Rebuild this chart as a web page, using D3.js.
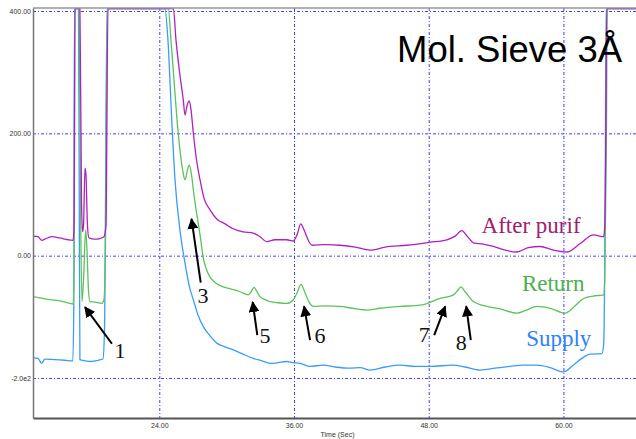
<!DOCTYPE html>
<html>
<head>
<meta charset="utf-8">
<script src="https://cdn.jsdelivr.net/npm/d3@7"></script>
<style>
  body { margin: 0; background: #fff; }
  svg { display: block; }
  .tick text { font-family: Arial, "Liberation Sans", sans-serif; font-size: 7px; fill: #333; }
  .note { font-family: "Liberation Serif", "Times New Roman", serif; }
</style>
</head>
<body>
<svg width="636" height="439"></svg>
<script>
// time (sec), signal
const afterPurif = [
  [12.74, 32], [13.19, 31], [13.55, 25], [13.81, 27], [14.43, 31], [15.14, 29], [15.86, 26], [16.31, 25],
  [16.40, 42], [16.49, 404], [16.93, 404], [17.07, 91], [17.16, 39], [17.25, 50], [17.38, 143], [17.47, 132],
  [17.60, 50], [17.73, 29], [18.27, 27], [18.71, 28], [19.07, 31], [19.25, 50], [19.43, 404], [25.25, 404],
  [25.49, 352], [25.84, 295], [26.14, 254], [26.29, 230], [26.47, 245], [26.67, 253], [26.83, 238], [27.03, 201],
  [27.32, 156], [27.63, 124], [27.98, 94], [28.52, 75], [29.12, 60], [29.86, 52], [30.57, 44], [31.46, 39],
  [32.38, 37], [32.97, 31], [33.57, 23], [34.31, 26], [35.35, 26], [35.94, 24], [36.27, 34], [36.60, 52],
  [36.90, 42], [37.25, 26], [37.61, 17], [38.77, 18], [40.11, 17], [41.45, 14], [42.78, 9], [44.12, 14],
  [46.05, 17], [48.13, 22], [49.61, 26], [50.35, 32], [50.95, 41], [51.42, 32], [51.99, 21], [52.85, 19],
  [53.77, 15], [54.81, 9], [55.86, 6], [56.86, 13], [57.93, 15], [59.09, 9], [60.31, 6], [61.50, 20],
  [62.68, 34], [63.58, 31], [63.68, 48], [63.77, 173], [63.86, 404], [67, 404]
]

const returnLine = [
  [12.74, -67], [13.37, -69], [14.26, -72], [15.14, -74], [16.04, -78], [16.33, -79], [16.42, 9], [16.49, 404],
  [16.84, 404], [16.98, 91], [17.11, -75], [17.25, -40], [17.44, 42], [17.56, 9], [17.69, -56], [17.82, -75],
  [18.27, -76], [18.87, -78], [19.07, -72], [19.20, 9], [19.38, 404], [24.80, 404], [25.04, 353], [25.31, 287],
  [25.58, 222], [25.84, 173], [26.11, 137], [26.29, 124], [26.51, 140], [26.67, 148], [26.87, 132], [27.09, 99],
  [27.33, 69], [27.63, 34], [27.92, -4], [28.21, -23], [28.52, -35], [29.05, -45], [29.70, -51], [30.48, -55],
  [31.19, -59], [31.93, -64], [32.17, -59], [32.44, -52], [32.71, -59], [32.97, -67], [33.42, -72], [33.87, -75],
  [34.58, -77], [35.35, -78], [35.94, -72], [36.27, -61], [36.63, -47], [36.99, -61], [37.34, -76], [37.73, -83],
  [38.77, -82], [40.11, -83], [41.18, -86], [42.49, -89], [43.67, -86], [45.45, -83], [47.24, -81], [49.02, -70],
  [50.20, -64], [50.53, -58], [50.86, -51], [51.25, -59], [51.99, -75], [53.18, -83], [54.37, -87], [55.86, -94],
  [56.69, -89], [57.64, -83], [58.82, -86], [60.16, -94], [61.05, -82], [61.79, -70], [62.65, -66], [63.58, -64],
  [63.68, -40], [63.82, 173], [63.91, 404], [67, 404]
]

const supply = [
  [12.74, -167], [13.19, -168], [13.52, -176], [13.81, -169], [14.70, -170], [15.59, -171], [16.30, -172], [16.39, -72],
  [16.44, 404], [16.80, 404], [16.87, 91], [16.93, -170], [17.38, -172], [18.00, -173], [18.54, -171], [18.98, -169],
  [19.12, -121], [19.34, 404], [24.50, 404], [24.77, 353], [25.11, 222], [25.40, 124], [25.84, 42], [26.29, -12],
  [26.65, -48], [27.03, -72], [27.45, -97], [27.92, -116], [28.52, -131], [29.12, -143], [29.86, -149], [30.60, -154],
  [31.46, -161], [32.38, -168], [33.15, -172], [33.87, -176], [34.58, -175], [35.35, -173], [35.92, -175], [36.54, -176],
  [37.43, -181], [38.62, -179], [39.66, -182], [41.00, -184], [41.89, -183], [42.78, -187], [44.12, -182], [45.46, -179],
  [46.79, -181], [48.13, -181], [50.20, -179], [51.25, -182], [52.58, -187], [53.92, -184], [55.26, -181], [56.42, -179],
  [57.64, -179], [58.82, -183], [60.00, -190], [60.87, -179], [61.49, -170], [62.38, -161], [63.42, -160], [63.58, -146],
  [63.72, 91], [63.80, 404], [67, 404]
]

const timeTicks = [24, 36, 48, 60]
const timeLabels = ['24.00', '36.00', '48.00', '60.00']
const valueTicks = [400, 200, 0, -200]
const valueLabels = ['400.00', '200.00', '0.00', '-2.0e2']

// [label, tip t, tip v, tail t, tail v, text t, text v]
const peaks = [
  ['1', 17.38, -84, 19.78, -144, 20.50, -167],
  ['3', 26.87, 60, 27.69, -44, 27.89, -77],
  ['5', 32.32, -76, 32.73, -130, 33.42, -142],
  ['6', 36.90, -83, 37.43, -138, 38.32, -143],
  ['7', 49.47, -83, 48.49, -130, 47.60, -141],
  ['8', 51.34, -83, 51.75, -138, 50.89, -154]
]

const seriesNames = ['After purif', 'Return', 'Supply']
const seriesLabelPos = [[52.71, 37], [56.30, -57], [56.68, -148]]

const svg = d3.select('svg')

const x = d3.scaleLinear().domain([12.75, 67]).range([33, 642])
const y = d3.scaleLinear().domain([-265.4, 404.9]).range([418, 8])

svg.append('clipPath').attr('id', 'plot')
  .append('rect')
  .attr('x', x.range()[0]).attr('y', y.range()[1])
  .attr('width', x.range()[1] - x.range()[0])
  .attr('height', y.range()[0] - y.range()[1])

// grid
const grid = svg.append('g')
  .attr('stroke', '#3f3fff')
  .attr('stroke-width', 1)
  .attr('stroke-dasharray', '3,2,1,2')

grid.selectAll('line.h')
  .data(valueTicks)
  .enter()
  .append('line')
  .attr('x1', x.range()[0]).attr('x2', x.range()[1])
  .attr('y1', d => y(d) + 0.5).attr('y2', d => y(d) + 0.5)

grid.selectAll('line.v')
  .data(timeTicks)
  .enter()
  .append('line')
  .attr('x1', d => x(d) + 0.5).attr('x2', d => x(d) + 0.5)
  .attr('y1', y.range()[1]).attr('y2', y.range()[0])

// traces
const line = d3.line().curve(d3.curveMonotoneX).x(d => x(d[0])).y(d => y(d[1]))
const traces = [
  [supply, '#3a9bff'],
  [returnLine, '#5cc25c'],
  [afterPurif, '#b020c0']
]

svg.append('g')
  .attr('clip-path', 'url(#plot)')
  .selectAll('path')
  .data(traces)
  .enter()
  .append('path')
  .attr('d', d => line(d[0]))
  .attr('fill', 'none')
  .attr('stroke', d => d[1])
  .attr('stroke-width', 1.3)
  .attr('stroke-linejoin', 'round')

// frame
svg.append('line')
  .attr('x1', x.range()[0]).attr('x2', x.range()[1])
  .attr('y1', y.range()[1]).attr('y2', y.range()[1])
  .attr('stroke', '#999').attr('stroke-width', 1.5)

svg.append('g')
  .attr('transform', `translate(${x.range()[0]},0)`)
  .call(d3.axisLeft(y).tickValues(valueTicks).tickSize(0).tickPadding(2)
    .tickFormat((d, i) => valueLabels[i]))
  .call(g => g.select('.domain').attr('stroke', '#777').attr('stroke-width', 1.5))

svg.append('g')
  .attr('transform', `translate(0,${y.range()[0]})`)
  .call(d3.axisBottom(x).tickValues(timeTicks).tickSize(0).tickPadding(5)
    .tickFormat((d, i) => timeLabels[i]))
  .call(g => g.select('.domain').attr('stroke', '#555').attr('stroke-width', 2))

svg.append('text')
  .attr('x', (x.range()[0] + x.range()[1]) / 2)
  .attr('y', 437)
  .attr('text-anchor', 'middle')
  .style('font-family', 'Arial, "Liberation Sans", sans-serif')
  .style('font-size', '7px')
  .attr('fill', '#333')
  .text('Time (Sec)')

// arrows
svg.append('defs').append('marker')
  .attr('id', 'head')
  .attr('viewBox', '0 0 10 10')
  .attr('refX', 9).attr('refY', 5)
  .attr('markerWidth', 5.5).attr('markerHeight', 5.5)
  .attr('orient', 'auto')
  .append('path')
  .attr('d', 'M0,0 L10,5 L0,10 z')
  .attr('fill', '#000')

const notes = svg.selectAll('g.note')
  .data(peaks)
  .enter()
  .append('g')

notes.append('line')
  .attr('x1', d => x(d[3])).attr('y1', d => y(d[4]))
  .attr('x2', d => x(d[1])).attr('y2', d => y(d[2]))
  .attr('stroke', '#000')
  .attr('stroke-width', 2)
  .attr('marker-end', 'url(#head)')

notes.append('text')
  .attr('class', 'note')
  .attr('x', d => x(d[5])).attr('y', d => y(d[6]))
  .attr('text-anchor', 'middle')
  .style('font-size', '22px')
  .attr('fill', '#111')
  .text(d => d[0])

const labelColors = ['#a0206e', '#4caf50', '#2a82ff']
svg.selectAll('text.series')
  .data(seriesNames)
  .enter()
  .append('text')
  .attr('class', 'note')
  .attr('x', (d, i) => x(seriesLabelPos[i][0]))
  .attr('y', (d, i) => y(seriesLabelPos[i][1]))
  .style('font-size', '23px')
  .attr('fill', (d, i) => labelColors[i])
  .text(d => d)

svg.append('text')
  .attr('x', 397)
  .attr('y', 62)
  .style('font-family', 'Arial, "Liberation Sans", sans-serif')
  .style('font-size', '36.5px')
  .attr('fill', '#000')
  .text('Mol. Sieve 3Å')
</script>
</body>
</html>
